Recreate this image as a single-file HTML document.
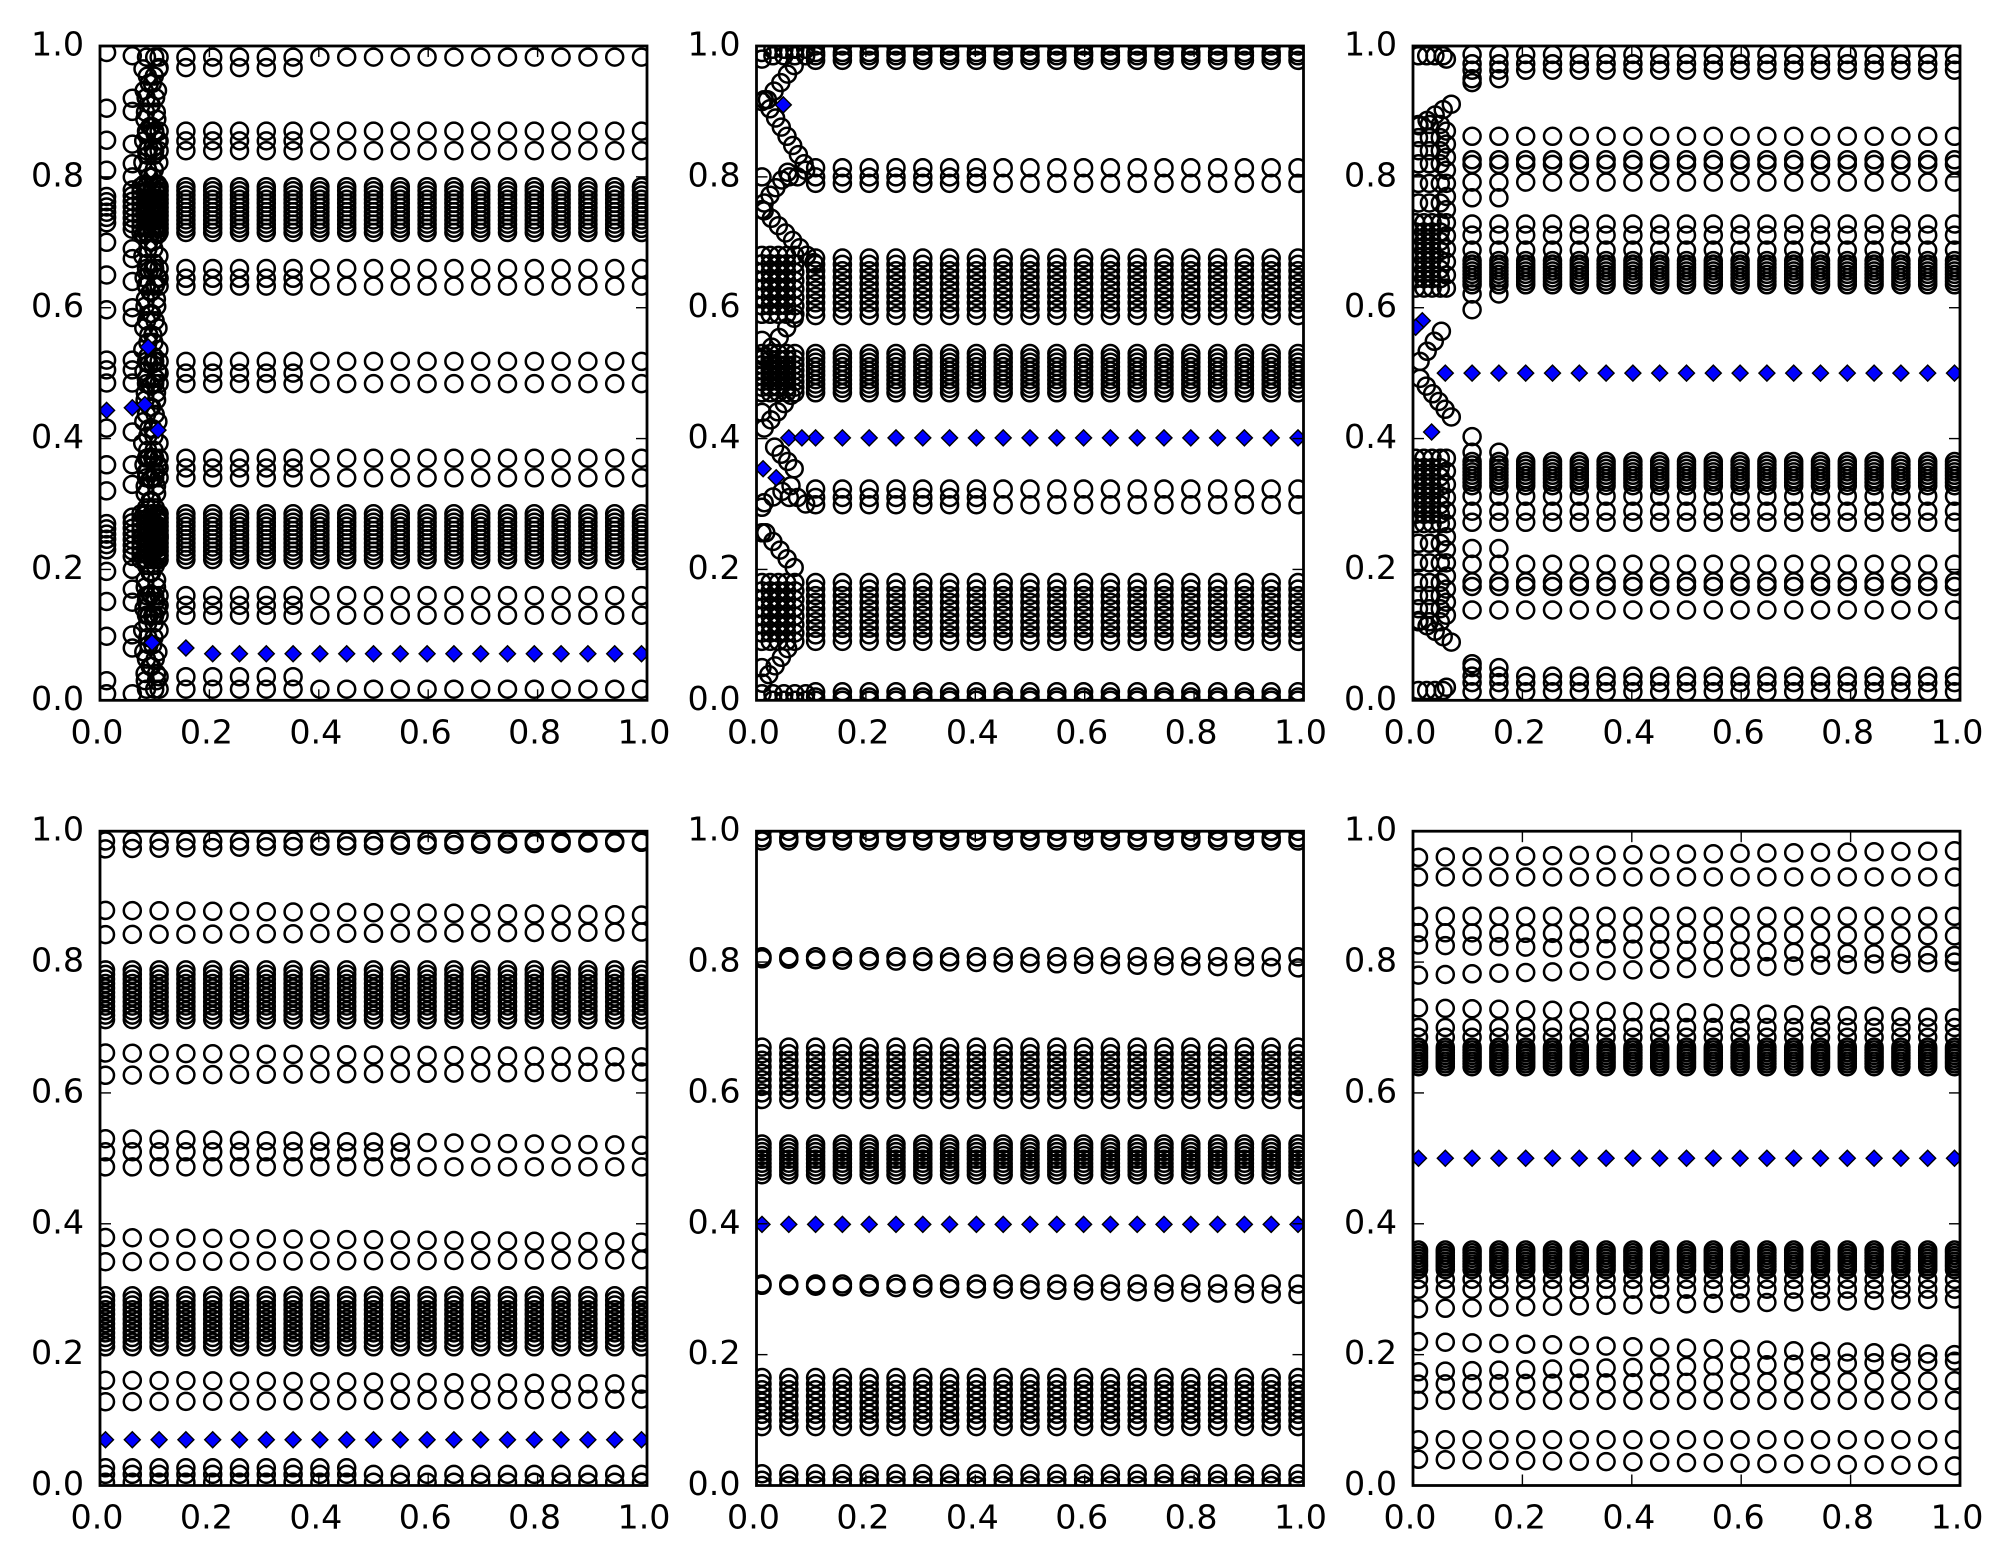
<!DOCTYPE html>
<html><head><meta charset="utf-8">
<style>
html,body{margin:0;padding:0;background:#fff;}
svg{display:block;}
text{font-family:"DejaVu Sans","Liberation Sans",sans-serif;font-size:33.3px;fill:#000;}
</style></head><body>
<svg id="s" width="2011" height="1565" viewBox="0 0 2011 1565" xmlns="http://www.w3.org/2000/svg">
<rect width="2011" height="1565" fill="#fff"/>
<defs>
<clipPath id="c0"><rect x="100" y="46" width="547" height="654.3"/></clipPath>
<clipPath id="c1"><rect x="756.5" y="46" width="547" height="654.3"/></clipPath>
<clipPath id="c2"><rect x="1413" y="46" width="547" height="654.3"/></clipPath>
<clipPath id="c3"><rect x="100" y="831.2" width="547" height="654.3"/></clipPath>
<clipPath id="c4"><rect x="756.5" y="831.2" width="547" height="654.3"/></clipPath>
<clipPath id="c5"><rect x="1413" y="831.2" width="547" height="654.3"/></clipPath>
</defs>
<g fill="none" stroke="#000" stroke-width="2.5">
<g id="g0" clip-path="url(#c0)"></g>
<g id="g1" clip-path="url(#c1)"></g>
<g id="g2" clip-path="url(#c2)"></g>
<g id="g3" clip-path="url(#c3)"></g>
<g id="g4" clip-path="url(#c4)"></g>
<g id="g5" clip-path="url(#c5)"></g>
</g>
<g fill="#0000ff" stroke="#000" stroke-width="1.4">
<g id="d0" clip-path="url(#c0)"></g>
<g id="d1" clip-path="url(#c1)"></g>
<g id="d2" clip-path="url(#c2)"></g>
<g id="d3" clip-path="url(#c3)"></g>
<g id="d4" clip-path="url(#c4)"></g>
<g id="d5" clip-path="url(#c5)"></g>
</g>
<g id="ticks" stroke="#000" stroke-width="1.4"></g>
<g fill="none" stroke="#000" stroke-width="2.8">
<rect x="100" y="46" width="547" height="654.3"/>
<rect x="756.5" y="46" width="547" height="654.3"/>
<rect x="1413" y="46" width="547" height="654.3"/>
<rect x="100" y="831.2" width="547" height="654.3"/>
<rect x="756.5" y="831.2" width="547" height="654.3"/>
<rect x="1413" y="831.2" width="547" height="654.3"/>
</g>
<g text-anchor="end">
<text x="84" y="55.5">1.0</text><text x="84" y="186.4">0.8</text><text x="84" y="317.2">0.6</text><text x="84" y="448.1">0.4</text><text x="84" y="578.9">0.2</text><text x="84" y="709.8">0.0</text>
<text x="740.5" y="55.5">1.0</text><text x="740.5" y="186.4">0.8</text><text x="740.5" y="317.2">0.6</text><text x="740.5" y="448.1">0.4</text><text x="740.5" y="578.9">0.2</text><text x="740.5" y="709.8">0.0</text>
<text x="1397" y="55.5">1.0</text><text x="1397" y="186.4">0.8</text><text x="1397" y="317.2">0.6</text><text x="1397" y="448.1">0.4</text><text x="1397" y="578.9">0.2</text><text x="1397" y="709.8">0.0</text>
<text x="84" y="840.7">1.0</text><text x="84" y="971.6">0.8</text><text x="84" y="1102.4">0.6</text><text x="84" y="1233.3">0.4</text><text x="84" y="1364.1">0.2</text><text x="84" y="1495">0.0</text>
<text x="740.5" y="840.7">1.0</text><text x="740.5" y="971.6">0.8</text><text x="740.5" y="1102.4">0.6</text><text x="740.5" y="1233.3">0.4</text><text x="740.5" y="1364.1">0.2</text><text x="740.5" y="1495">0.0</text>
<text x="1397" y="840.7">1.0</text><text x="1397" y="971.6">0.8</text><text x="1397" y="1102.4">0.6</text><text x="1397" y="1233.3">0.4</text><text x="1397" y="1364.1">0.2</text><text x="1397" y="1495">0.0</text>
</g>
<g text-anchor="middle">
<text x="97" y="743.3">0.0</text><text x="206.4" y="743.3">0.2</text><text x="315.8" y="743.3">0.4</text><text x="425.2" y="743.3">0.6</text><text x="534.6" y="743.3">0.8</text><text x="644" y="743.3">1.0</text>
<text x="753.5" y="743.3">0.0</text><text x="862.9" y="743.3">0.2</text><text x="972.3" y="743.3">0.4</text><text x="1081.7" y="743.3">0.6</text><text x="1191.1" y="743.3">0.8</text><text x="1300.5" y="743.3">1.0</text>
<text x="1410" y="743.3">0.0</text><text x="1519.4" y="743.3">0.2</text><text x="1628.8" y="743.3">0.4</text><text x="1738.2" y="743.3">0.6</text><text x="1847.6" y="743.3">0.8</text><text x="1957" y="743.3">1.0</text>
<text x="97" y="1528.5">0.0</text><text x="206.4" y="1528.5">0.2</text><text x="315.8" y="1528.5">0.4</text><text x="425.2" y="1528.5">0.6</text><text x="534.6" y="1528.5">0.8</text><text x="644" y="1528.5">1.0</text>
<text x="753.5" y="1528.5">0.0</text><text x="862.9" y="1528.5">0.2</text><text x="972.3" y="1528.5">0.4</text><text x="1081.7" y="1528.5">0.6</text><text x="1191.1" y="1528.5">0.8</text><text x="1300.5" y="1528.5">1.0</text>
<text x="1410" y="1528.5">0.0</text><text x="1519.4" y="1528.5">0.2</text><text x="1628.8" y="1528.5">0.4</text><text x="1738.2" y="1528.5">0.6</text><text x="1847.6" y="1528.5">0.8</text><text x="1957" y="1528.5">1.0</text>
</g>
</svg>
<script>
(function(){
var PX=[100,756.5,1413],PY=[46,831.2],W=547,H=654.3;
var O=['','','','','',''],D=['','','','','',''];
function pos(p,x,y){return [PX[p%3]+x*W,PY[(p/3)|0]+(1-y)*H];}
function c(p,x,y){var q=pos(p,x,y);O[p]+='<circle cx="'+q[0].toFixed(1)+'" cy="'+q[1].toFixed(1)+'" r="8.5"/>';}
function d(p,x,y){var q=pos(p,x,y),a=q[0],b=q[1],s=8;D[p]+='<polygon points="'+a.toFixed(1)+','+(b-s).toFixed(1)+' '+(a+s).toFixed(1)+','+b.toFixed(1)+' '+a.toFixed(1)+','+(b+s).toFixed(1)+' '+(a-s).toFixed(1)+','+b.toFixed(1)+'"/>';}
function band(p,x,lo,hi,n){for(var i=0;i<n;i++)c(p,x,lo+(hi-lo)*i/(n-1));}
function levs(p,x,a){for(var i=0;i<a.length;i++)c(p,x,a[i]);}
function chain(p,x1,y1,x2,y2){var a=pos(p,x1,y1),b=pos(p,x2,y2);var L=Math.hypot(b[0]-a[0],b[1]-a[1]);var n=Math.max(2,Math.round(L/11)+1);for(var i=0;i<n;i++)c(p,x1+(x2-x1)*i/(n-1),y1+(y2-y1)*i/(n-1));}
function xs(k){return 0.01+0.049*k;}
function L(a,b,t){return a+(b-a)*t;}
var k,t,x,y,i;

/* ---------- Panel 1 ---------- */
for(k=2;k<=20;k++){x=xs(k);t=Math.max(0,(k-3)/17);
 levs(0,x,[0.983,0.87,0.84,0.66,0.633,0.518,0.484,0.37,0.34,0.16,0.13,0.017]);
 if(t<0.25){levs(0,x,[0.967,0.855,0.645,0.5,0.355,0.145,0.036]);}
 band(0,x,0.715,0.785,12);band(0,x,0.215,0.285,12);
 if(k>=3)d(0,x,k==3?0.08:0.071);
}
levs(0,0.012,[0.99,0.905,0.856,0.81,0.70,0.65,0.597,0.52,0.505,0.485,0.416,0.36,0.32,0.197,0.151,0.098,0.01,0.03]);
band(0,0.012,0.73,0.77,6);band(0,0.012,0.23,0.27,6);d(0,0.012,0.443);
levs(0,0.059,[0.985,0.92,0.9,0.85,0.82,0.80,0.69,0.675,0.64,0.6,0.585,0.52,0.505,0.485,0.41,0.36,0.33,0.2,0.17,0.15,0.1,0.08,0.01]);
band(0,0.059,0.72,0.78,8);band(0,0.059,0.22,0.28,8);d(0,0.059,0.447);
for(y=0.03;y<=0.97;y+=0.011){var ph=(y*14)%1,tri=Math.abs(ph*2-1);c(0,0.078+0.03*tri,y);c(0,0.108-0.03*tri,y);}
[0.075,0.085,0.095,0.105].forEach(function(xx){band(0,xx,0.715,0.785,9);band(0,xx,0.215,0.285,9);});
[0.085,0.1].forEach(function(xx){levs(0,xx,[0.983,0.87,0.84,0.66,0.633,0.518,0.484,0.37,0.34,0.16,0.13,0.017]);});
d(0,0.088,0.54);d(0,0.082,0.452);d(0,0.106,0.413);d(0,0.095,0.088);

/* ---------- Panel 2 ---------- */
for(k=2;k<=20;k++){x=xs(k);t=Math.max(0,(k-3)/17);
 levs(1,x,[1.0,0.99,0.985,0.978,0.814,0.79,0.323,0.299,0.013,0.005,0.0]);
 if(t<0.3)levs(1,x,[0.80,0.31]);
 band(1,x,0.588,0.676,10);band(1,x,0.47,0.53,10);band(1,x,0.09,0.18,10);
 d(1,x,0.401);
}
levs(1,0.01,[0.99,0.98,0.915,0.80,0.75,0.55,0.44,0.295,0.256,0.05,0.01]);
[0.01,0.025,0.04,0.055,0.07].forEach(function(xx){band(1,xx,0.59,0.68,8);band(1,xx,0.47,0.53,8);band(1,xx,0.09,0.18,8);});
[0.03,0.05,0.07,0.09].forEach(function(xx){levs(1,xx,[0.995,0.985,0.01,0.0]);});
chain(1,0.02,0.918,0.069,0.97);
chain(1,0.014,0.918,0.087,0.82);
chain(1,0.014,0.748,0.105,0.669);
chain(1,0.014,0.76,0.057,0.807);
chain(1,0.069,0.584,0.014,0.525);
chain(1,0.063,0.466,0.014,0.416);
chain(1,0.033,0.387,0.069,0.354);
chain(1,0.014,0.302,0.063,0.328);
chain(1,0.017,0.256,0.069,0.203);
chain(1,0.057,0.079,0.011,0.026);
levs(1,0.06,[0.80,0.31]);levs(1,0.075,[0.80,0.31]);levs(1,0.09,[0.81,0.30]);
d(1,0.012,0.354);d(1,0.036,0.34);d(1,0.049,0.91);d(1,0.059,0.401);d(1,0.083,0.401);

/* ---------- Panel 3 ---------- */
var up3=[0.987,0.973,0.963,0.862,0.826,0.819,0.792,0.728,0.711,0.688];
for(k=2;k<=20;k++){x=xs(k);
 levs(2,x,up3);levs(2,x,up3.map(function(v){return 1-v;}));
 band(2,x,0.635,0.672,8);band(2,x,0.328,0.365,8);
 if(k<=3){levs(2,x,[0.95,0.768,0.621,0.05,0.232,0.379]);}
 if(k==2){levs(2,x,[0.597,0.403,0.944,0.056]);}
}
for(k=1;k<=20;k++)d(2,xs(k),0.5);
[0.005,0.02,0.035,0.05].forEach(function(xx){band(2,xx,0.63,0.73,8);band(2,xx,0.27,0.37,8);});
[0.01,0.03,0.05].forEach(function(xx){levs(2,xx,[0.76,0.79,0.82,0.84,0.86,0.88,0.24,0.21,0.18,0.16,0.14,0.12]);});
levs(2,0.061,[0.98,0.87,0.85,0.83,0.81,0.79,0.77,0.75,0.73,0.71,0.69,0.67,0.65,0.63,0.02,0.13,0.15,0.17,0.19,0.21,0.23,0.25,0.27,0.29,0.31,0.33,0.35,0.37]);
[0.01,0.025,0.04,0.055].forEach(function(xx){levs(2,xx,[0.985,0.015]);});
chain(2,0.07,0.911,0.011,0.878);chain(2,0.07,0.089,0.011,0.122);
chain(2,0.052,0.564,0.013,0.518);chain(2,0.013,0.492,0.07,0.433);
d(2,0.017,0.58);d(2,0.005,0.57);d(2,0.034,0.41);

/* ---------- Panel 4 ---------- */
for(k=0;k<=20;k++){x=xs(k);t=k/20;
 levs(3,x,[0.985,0.017,0.005,L(0.973,0.983,t),L(0.879,0.872,t),L(0.842,0.846,t),L(0.661,0.655,t),L(0.627,0.632,t),L(0.53,0.52,t),0.487,L(0.379,0.372,t),L(0.342,0.345,t),L(0.161,0.155,t),L(0.128,0.132,t)]);
 if(t<0.6)levs(3,x,[0.51]);
 if(t<0.5)levs(3,x,[0.027]);
 band(3,x,0.712,0.788,12);band(3,x,0.212,0.29,12);
 d(3,x,0.07);
}

/* ---------- Panel 5 ---------- */
for(k=0;k<=20;k++){x=xs(k);t=k/20;
 levs(4,x,[1.0,0.99,0.985,0.018,0.008,0.0,0.808,L(0.805,0.791,t),0.308,L(0.306,0.292,t)]);
 band(4,x,0.59,0.67,9);band(4,x,0.475,0.522,9);band(4,x,0.09,0.165,9);
 d(4,x,0.399);
}

/* ---------- Panel 6 ---------- */
for(k=0;k<=20;k++){x=xs(k);t=k/20;
 var u=[L(0.96,0.97,t),0.93,0.87,L(0.845,0.84,t),L(0.826,0.81,t),L(0.78,0.80,t),L(0.73,0.715,t),0.70,0.685];
 levs(5,x,u);levs(5,x,u.map(function(v){return 1-v;}));
 band(5,x,0.64,0.67,8);band(5,x,0.33,0.36,8);
 d(5,x,0.5);
}

for(i=0;i<6;i++){document.getElementById('g'+i).innerHTML=O[i];document.getElementById('d'+i).innerHTML=D[i];}

/* ticks */
var T='',tl=11;
for(var p=0;p<6;p++){var x0=PX[p%3],y0=PY[(p/3)|0],x1=x0+W,y1=y0+H;
 for(i=0;i<=5;i++){var v=i*0.2;var tx=x0+v*W,ty=y1-v*H;
  T+='<line x1="'+tx+'" y1="'+y1+'" x2="'+tx+'" y2="'+(y1-tl)+'"/>';
  T+='<line x1="'+tx+'" y1="'+y0+'" x2="'+tx+'" y2="'+(y0+tl)+'"/>';
  T+='<line x1="'+x0+'" y1="'+ty+'" x2="'+(x0+tl)+'" y2="'+ty+'"/>';
  T+='<line x1="'+x1+'" y1="'+ty+'" x2="'+(x1-tl)+'" y2="'+ty+'"/>';
 }}
document.getElementById('ticks').innerHTML=T;
})();
</script>
</body></html>
